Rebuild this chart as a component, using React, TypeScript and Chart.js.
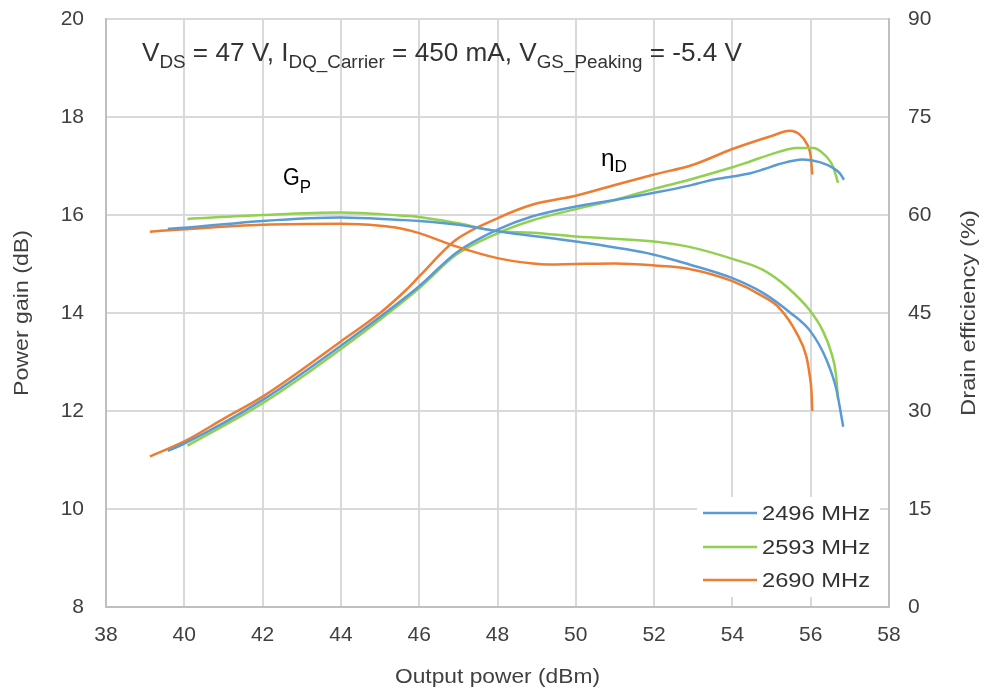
import { useEffect, useRef } from 'react';
import { Chart, registerables } from 'chart.js';

Chart.register(...registerables);

const W = 989;
const H = 694;

// ---- data ----
const seriesNames = ['2496 MHz', '2593 MHz', '2690 MHz'];
const seriesColors = ['#5b9bd5', '#92d050', '#ed7d31'];

const xGain2496 = [39.58, 40, 42, 44, 45.5, 46, 47, 48, 50, 52, 52.9, 54, 54.78, 55.47, 56, 56.4, 56.66, 56.74, 56.83];
const gain2496 = [15.72, 15.74, 15.88, 15.95, 15.9, 15.88, 15.8, 15.67, 15.46, 15.19, 14.99, 14.71, 14.41, 14.01, 13.62, 13.05, 12.43, 12.09, 11.68];

const xGain2593 = [40.08, 42, 44, 45.5, 46, 47, 48, 48.9, 50, 52, 52.9, 54.1, 54.78, 55.38, 56, 56.32, 56.53, 56.64, 56.7];
const gain2593 = [15.92, 16.0, 16.05, 15.99, 15.96, 15.83, 15.67, 15.64, 15.56, 15.46, 15.35, 15.08, 14.88, 14.54, 14.03, 13.62, 13.18, 12.78, 12.23];

const xGain2690 = [39.12, 40, 42, 44, 45, 45.5, 46, 46.94, 48, 48.9, 49.3, 50, 51, 52, 52.9, 54, 54.78, 55.2, 55.64, 55.89, 55.97, 56.02, 56.04];
const gain2690 = [15.66, 15.71, 15.8, 15.82, 15.78, 15.73, 15.63, 15.36, 15.12, 15.01, 14.99, 15.0, 15.01, 14.97, 14.9, 14.65, 14.34, 14.1, 13.59, 13.11, 12.75, 12.4, 12.0];

const xEff2496 = [39.58, 40, 42, 44, 46, 46.94, 48, 48.9, 50, 51, 52, 52.9, 53.5, 54, 54.4, 54.8, 55.2, 55.8, 56.23, 56.57, 56.74, 56.85];
const eff2496 = [23.9, 25.0, 31.7, 40.0, 49.1, 54.2, 57.75, 59.8, 61.3, 62.3, 63.4, 64.5, 65.4, 65.9, 66.3, 67.0, 67.8, 68.5, 68.1, 67.2, 66.4, 65.4];

const xEff2593 = [40.08, 42, 44, 46, 46.94, 48, 48.9, 50, 51, 52, 52.9, 54, 54.36, 55.2, 55.63, 56.06, 56.3, 56.57, 56.7];
const eff2593 = [24.7, 31.2, 39.5, 48.8, 53.9, 57.2, 59.2, 60.9, 62.3, 64.0, 65.4, 67.3, 68.0, 69.7, 70.25, 70.25, 69.5, 67.4, 64.9];

const xEff2690 = [39.12, 40, 41, 42, 44, 45, 45.67, 46, 46.94, 48, 48.9, 50, 51, 52, 53, 54, 55, 55.47, 55.72, 55.89, 56.0, 56.04];
const eff2690 = [23.05, 25.35, 28.8, 32.2, 40.65, 45.0, 48.56, 50.6, 56.2, 59.5, 61.6, 62.95, 64.6, 66.2, 67.7, 70.1, 72.1, 72.9, 72.3, 71.0, 69.0, 66.2];

const xRange = [38, 58];
const gainRange = [8, 20];
const effRange = [0, 90];

const FONT = '"Liberation Sans", Arial, sans-serif';

function pts(xs: number[], ys: number[]) {
  return xs.map((x, i) => ({ x, y: ys[i] }));
}

function drawFit(ctx: CanvasRenderingContext2D, text: string, x: number, y: number, size: number, targetW: number, align: CanvasTextAlign, rot = 0) {
  ctx.save();
  ctx.font = `${size}px ${FONT}`;
  const w = ctx.measureText(text).width;
  const s = targetW > 0 ? targetW / w : 1;
  ctx.translate(x, y);
  if (rot) ctx.rotate(rot);
  ctx.scale(s, 1);
  ctx.textAlign = align;
  ctx.textBaseline = 'alphabetic';
  ctx.fillText(text, 0, 0);
  ctx.restore();
}

type Run = { t: string; sub?: boolean };

function drawRuns(ctx: CanvasRenderingContext2D, runs: Run[], x: number, y: number, main: number, sub: number, subDy: number, targetW: number) {
  ctx.save();
  let total = 0;
  const widths = runs.map((r) => {
    ctx.font = `${r.sub ? sub : main}px ${FONT}`;
    const w = ctx.measureText(r.t).width;
    total += w;
    return w;
  });
  const s = targetW > 0 ? targetW / total : 1;
  ctx.translate(x, y);
  ctx.scale(s, 1);
  ctx.textAlign = 'left';
  ctx.textBaseline = 'alphabetic';
  let cx = 0;
  runs.forEach((r, i) => {
    ctx.font = `${r.sub ? sub : main}px ${FONT}`;
    ctx.fillText(r.t, cx, r.sub ? subDy : 0);
    cx += widths[i];
  });
  ctx.restore();
}

const overlay = {
  id: 'overlay',
  afterDraw(chart: any) {
    const ctx: CanvasRenderingContext2D = chart.ctx;
    const area = chart.chartArea;
    const cy = (area.top + area.bottom) / 2;

    // condition text
    ctx.fillStyle = '#333333';
    drawRuns(
      ctx,
      [
        { t: 'V' }, { t: 'DS', sub: true }, { t: ' = 47 V, I' }, { t: 'DQ_Carrier', sub: true },
        { t: ' = 450 mA, V' }, { t: 'GS_Peaking', sub: true }, { t: ' = -5.4 V' },
      ],
      142, 61, 25, 18, 7, 600
    );

    // curve labels
    ctx.fillStyle = '#000000';
    drawRuns(ctx, [{ t: 'G' }, { t: 'P', sub: true }], 283, 185, 23, 18, 8, 28);
    drawRuns(ctx, [{ t: 'η' }, { t: 'D', sub: true }], 601, 166, 24, 17, 6, 26);

    // axis titles
    ctx.fillStyle = '#404040';
    drawFit(ctx, 'Output power (dBm)', (area.left + area.right) / 2, 683, 21, 205, 'center');
    drawFit(ctx, 'Power gain (dB)', 28, cy, 21, 166, 'center', -Math.PI / 2);
    drawFit(ctx, 'Drain efficiency (%)', 975, cy, 21, 206, 'center', -Math.PI / 2);

    // legend
    ctx.save();
    ctx.fillStyle = '#ffffff';
    ctx.fillRect(697, 497, 183, 100);
    const rows = [513, 547, 580];
    seriesNames.forEach((name, i) => {
      ctx.strokeStyle = seriesColors[i];
      ctx.lineWidth = 2.5;
      ctx.beginPath();
      ctx.moveTo(703, rows[i]);
      ctx.lineTo(757, rows[i]);
      ctx.stroke();
      ctx.fillStyle = '#333333';
      drawFit(ctx, name, 762, rows[i] + 7, 20, 108, 'left');
    });
    ctx.restore();
  },
};

export default function App() {
  const ref = useRef<HTMLCanvasElement | null>(null);

  useEffect(() => {
    if (!ref.current) return;
    const mk = (label: string, data: { x: number; y: number }[], color: string, axis: string) => ({
      label,
      data,
      yAxisID: axis,
      borderColor: color,
      backgroundColor: color,
      borderWidth: 2.5,
      pointRadius: 0,
      fill: false,
      cubicInterpolationMode: 'monotone' as const,
    });
    const noPadY = (w: number) => (s: any) => {
      s.width = w;
      s.paddingTop = 0;
      s.paddingBottom = 0;
    };
    const chart = new Chart(ref.current, {
      type: 'line',
      data: {
        datasets: [
          mk('Gp ' + seriesNames[0], pts(xGain2496, gain2496), seriesColors[0], 'y'),
          mk('Gp ' + seriesNames[1], pts(xGain2593, gain2593), seriesColors[1], 'y'),
          mk('Gp ' + seriesNames[2], pts(xGain2690, gain2690), seriesColors[2], 'y'),
          mk('Eff ' + seriesNames[0], pts(xEff2496, eff2496), seriesColors[0], 'y1'),
          mk('Eff ' + seriesNames[1], pts(xEff2593, eff2593), seriesColors[1], 'y1'),
          mk('Eff ' + seriesNames[2], pts(xEff2690, eff2690), seriesColors[2], 'y1'),
        ],
      },
      options: {
        responsive: false,
        animation: false,
        layout: { padding: { top: 19, left: 0, right: 0, bottom: 0 } },
        plugins: { legend: { display: false }, tooltip: { enabled: false } },
        scales: {
          x: {
            type: 'linear',
            min: xRange[0],
            max: xRange[1],
            ticks: { stepSize: 2, padding: 16, color: '#404040', font: { size: 21, family: FONT } },
            grid: { color: '#d9d9d9', lineWidth: 2, drawTicks: false },
            border: { color: '#bfbfbf', width: 2 },
            afterFit: (s: any) => {
              s.height = 87;
              s.paddingLeft = 0;
              s.paddingRight = 0;
            },
          },
          y: {
            type: 'linear',
            position: 'left',
            min: gainRange[0],
            max: gainRange[1],
            ticks: { stepSize: 2, padding: 22, color: '#404040', font: { size: 21, family: FONT } },
            grid: { color: '#d9d9d9', lineWidth: 2, drawTicks: false },
            border: { color: '#bfbfbf', width: 2 },
            afterFit: noPadY(106),
          },
          y1: {
            type: 'linear',
            position: 'right',
            min: effRange[0],
            max: effRange[1],
            ticks: { stepSize: 15, padding: 19, color: '#404040', font: { size: 21, family: FONT } },
            grid: { drawOnChartArea: false, drawTicks: false },
            border: { color: '#bfbfbf', width: 2 },
            afterFit: noPadY(100),
          },
        },
      },
      plugins: [overlay],
    });
    return () => chart.destroy();
  }, []);

  return (
    <div style={{ position: 'fixed', left: 0, top: 0, width: W, height: H, background: '#ffffff' }}>
      <canvas ref={ref} width={W} height={H} style={{ display: 'block', width: W, height: H }} />
    </div>
  );
}
